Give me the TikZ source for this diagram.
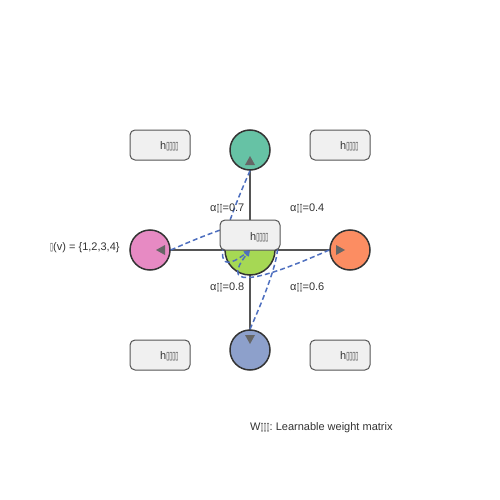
\documentclass[tikz,border=0pt]{standalone}
\usepackage{fontspec}
\setmainfont{Liberation Sans}
\newfontfamily\dejavu{DejaVu Sans}
\usetikzlibrary{backgrounds,arrows.meta}
\definecolor{cgreen}{HTML}{A6D854}
\definecolor{cteal}{HTML}{66C2A5}
\definecolor{cpink}{HTML}{E78AC3}
\definecolor{corange}{HTML}{FC8D62}
\definecolor{cblue}{HTML}{8DA0CB}
\definecolor{cdark}{HTML}{333333}
\definecolor{txt}{HTML}{333333}
\definecolor{boxedge}{HTML}{555555}
\definecolor{boxfill}{HTML}{F0F0F0}
\definecolor{linegray}{HTML}{555555}
\definecolor{trigray}{HTML}{666666}
\definecolor{attnblue}{HTML}{4E6FBF}
\newcommand\tofu{{\dejavu\scalebox{0.5}[1]{▯}}}
\begin{document}
\begin{tikzpicture}[x=1pt,y=-1pt,
  every node/.style={font=\fontsize{11}{13}\selectfont\frenchspacing, text=txt},
  nodecirc/.style={circle, draw=cdark, line width=1.5pt, minimum size=40pt, inner sep=0pt},
  hbox/.style={rectangle, rounded corners=5pt, draw=boxedge, fill=boxfill, line width=1pt, minimum width=60pt, minimum height=30pt, inner sep=0pt},
  lbl/.style={anchor=base west, inner sep=0pt},
  link/.style={draw=linegray, line width=2pt},
  attn/.style={draw=attnblue, line width=1.5pt, dash pattern=on 5pt off 3pt, -{Triangle[length=6pt,width=6pt]}},
  tri/.style={fill=trigray}]
\useasboundingbox (0,0) rectangle (500,500);
% nodes
\node[nodecirc, fill=cgreen, minimum size=50pt] (c) at (250,250) {};
\node[nodecirc, fill=cteal] (t) at (250,150) {};
\node[nodecirc, fill=cpink] (l) at (150,250) {};
\node[nodecirc, fill=corange] (r) at (350,250) {};
\node[nodecirc, fill=cblue] (b) at (250,350) {};
% links
\begin{scope}[on background layer]
\draw[link] (c.center) -- (t.center);
\draw[link] (c.center) -- (l.center);
\draw[link] (c.center) -- (r.center);
\draw[link] (c.center) -- (b.center);
\end{scope}
% attention curves
\draw[attn] (t.south) .. controls (214,252) and (214,278) .. (c.center);
\draw[attn] (l.east) .. controls (252,214) and (278,214) .. (c.center);
\draw[attn] (r.west) .. controls (248,286) and (222,286) .. (c.center);
\draw[attn] (b.north) .. controls (286,248) and (286,222) .. (c.center);
% boxes
\node[hbox] (hc) at (250,235) {};
\node[lbl] (hct) at (250,240) {h\tofu\tofu\tofu\tofu};
\node[hbox] (h1) at (160,145) {};
\node[lbl] (h1t) at (160,149.5) {h\tofu\tofu\tofu\tofu};
\node[hbox] (h2) at (340,145) {};
\node[lbl] (h2t) at (340,149.5) {h\tofu\tofu\tofu\tofu};
\node[hbox] (h3) at (160,355) {};
\node[lbl] (h3t) at (160,359.5) {h\tofu\tofu\tofu\tofu};
\node[hbox] (h4) at (340,355) {};
\node[lbl] (h4t) at (340,359.5) {h\tofu\tofu\tofu\tofu};
% triangles
\fill[tri] (t.center) ++(0,6) -- ++(-5,9) -- ++(10,0) -- cycle;
\fill[tri] (l.center) ++(6,0) -- ++(9,-5) -- ++(0,10) -- cycle;
\fill[tri] (r.center) ++(-5,0) -- ++(-9,-5) -- ++(0,10) -- cycle;
\fill[tri] (b.center) ++(0,-6) -- ++(-5,-9) -- ++(10,0) -- cycle;
% labels
\node[lbl] (a1) at (210,211) {α\tofu\tofu=0.7};
\node[lbl] (a2) at (290,211) {α\tofu\tofu=0.4};
\node[lbl] (a3) at (210,290) {α\tofu\tofu=0.8};
\node[lbl] (a4) at (290,290) {α\tofu\tofu=0.6};
\node[lbl] (nv) at (50,250) {\tofu(v) = \{1,2,3,4\}};
\node[lbl] (w) at (250,430) {W\tofu\tofu\tofu: Learnable weight matrix};
\end{tikzpicture}
\end{document}
